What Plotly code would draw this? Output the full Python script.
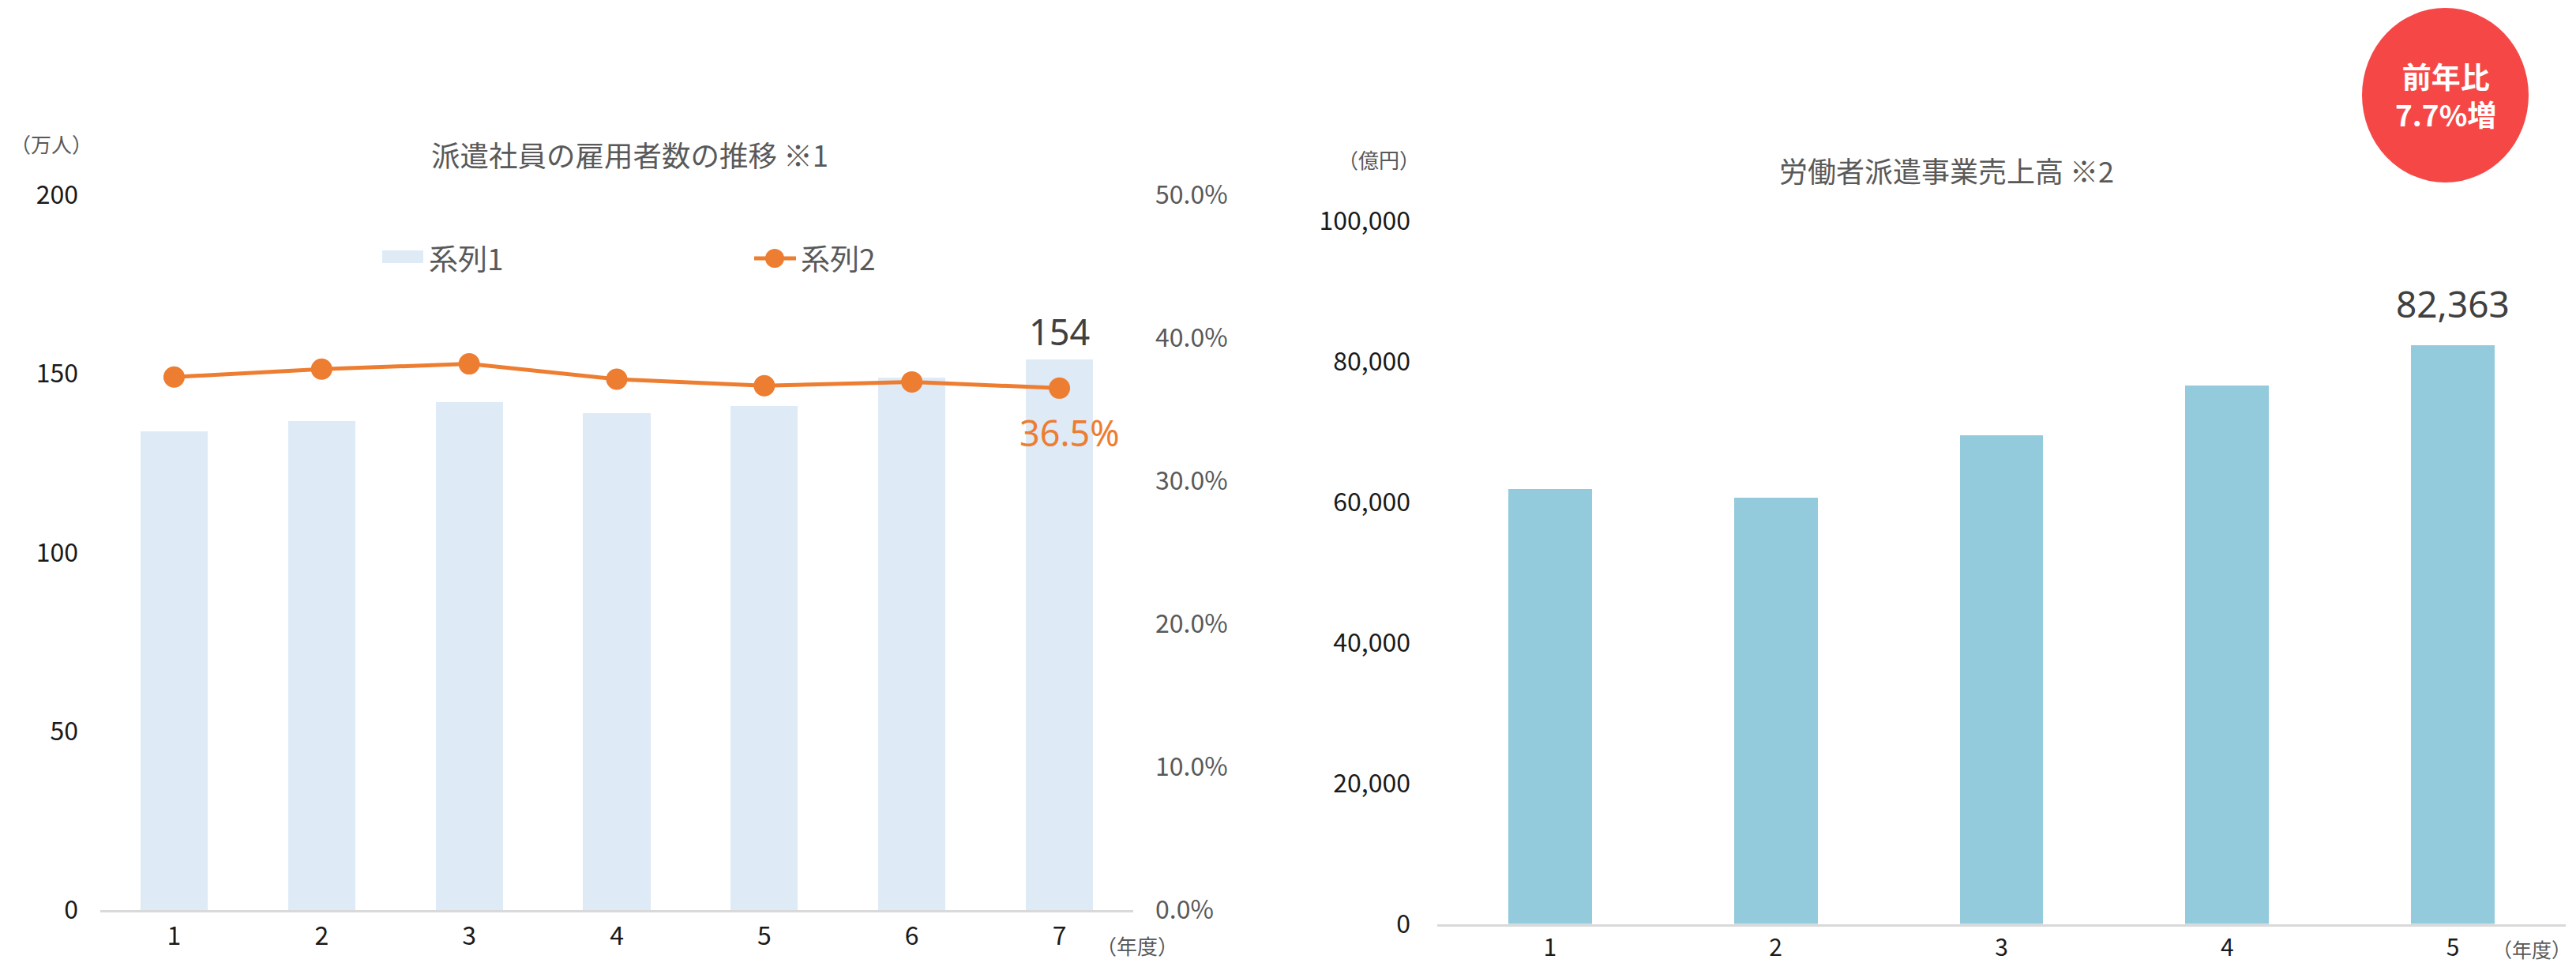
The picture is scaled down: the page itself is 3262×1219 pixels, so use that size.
import plotly.graph_objects as go

W, H = 3262, 1219

# 派遣社員の雇用者数の推移 (万人) と 比率
years_left = ["1", "2", "3", "4", "5", "6", "7"]
staff_counts = [133.9, 136.9, 142.0, 139.0, 141.0, 148.9, 154.0]
staff_ratio = [0.3728, 0.3783, 0.3820, 0.3713, 0.3667, 0.3694, 0.365]

# 労働者派遣事業売上高 (億円)
years_right = ["1", "2", "3", "4", "5"]
sales = [61876, 60710, 69585, 76593, 82363]

left_ticks = [0, 50, 100, 150, 200]
ratio_ticks = [0.0, 0.1, 0.2, 0.3, 0.4, 0.5]
sales_ticks = [0, 20000, 40000, 60000, 80000, 100000]

BAR_LIGHT = "#DEEAF6"
ORANGE = "#ED7D31"
BAR_BLUE = "#94CBDC"
GREY = "#595959"
DARK = "#404040"
FONT = "Noto Sans CJK JP, Noto Sans, sans-serif"


def px_x(p):
    return p / W


def px_y(p):
    return 1 - p / H


fig = go.Figure()

fig.add_trace(go.Bar(
    x=years_left, y=staff_counts, name="系列1",
    marker=dict(color=BAR_LIGHT, line=dict(width=0)),
    width=0.455, xaxis="x", yaxis="y", showlegend=False,
    hoverinfo="skip",
))
fig.add_trace(go.Scatter(
    x=years_left, y=staff_ratio, name="系列2", mode="lines+markers",
    line=dict(color=ORANGE, width=5),
    marker=dict(color=ORANGE, size=27),
    xaxis="x", yaxis="y2", showlegend=False, hoverinfo="skip",
))
fig.add_trace(go.Bar(
    x=years_right, y=sales, name="売上高",
    marker=dict(color=BAR_BLUE, line=dict(width=0)),
    width=0.37, xaxis="x2", yaxis="y3", showlegend=False,
    hoverinfo="skip",
))

left_dom_y = [px_y(1152), px_y(247)]
right_dom_y = [px_y(1169.5), px_y(279.5)]

tick_font_black = dict(family=FONT, size=32, color="#1a1a1a")

fig.update_layout(
    template="none",
    width=W, height=H,
    margin=dict(l=0, r=0, t=0, b=0, pad=0),
    paper_bgcolor="white", plot_bgcolor="rgba(0,0,0,0)",
    font=dict(family=FONT),
    bargap=0,
    xaxis=dict(
        domain=[px_x(127), px_x(1435)], anchor="y", automargin=False,
        type="category", range=[-0.5, 6.5],
        showgrid=False, zeroline=False,
        showline=True, linecolor="#D9D9D9", linewidth=3,
        ticks="", tickfont=tick_font_black, ticklabelstandoff=3,
    ),
    yaxis=dict(
        domain=left_dom_y, anchor="x", automargin=False,
        range=[0, 200], tickvals=left_ticks,
        showgrid=False, zeroline=False, showline=False,
        ticks="", tickfont=tick_font_black, ticklabelstandoff=27,
    ),
    yaxis2=dict(
        domain=left_dom_y, anchor="x", overlaying="y", side="right",
        automargin=False,
        range=[0, 0.5], tickvals=ratio_ticks, tickformat=".1%",
        showgrid=False, zeroline=False, showline=False,
        ticks="", tickfont=dict(family=FONT, size=32, color=GREY),
        ticklabelstandoff=27,
    ),
    xaxis2=dict(
        domain=[px_x(1820), px_x(3249)], anchor="y3", automargin=False,
        type="category", range=[-0.5, 4.5],
        showgrid=False, zeroline=False,
        showline=True, linecolor="#D9D9D9", linewidth=3,
        ticks="", tickfont=dict(family=FONT, size=30, color="#1a1a1a"),
        ticklabelstandoff=1,
    ),
    yaxis3=dict(
        domain=right_dom_y, anchor="x2", automargin=False,
        range=[0, 100000], tickvals=sales_ticks, tickformat=",d",
        showgrid=False, zeroline=False, showline=False,
        ticks="", tickfont=dict(family=FONT, size=32, color="#1a1a1a"),
        ticklabelstandoff=33,
    ),
)

shapes = []
annotations = []


def paper_text(text, x, y, size, color, xanchor="center", bold=False):
    annotations.append(dict(
        text=f"<b>{text}</b>" if bold else text,
        x=px_x(x), y=px_y(y), xref="paper", yref="paper",
        xanchor=xanchor, yanchor="middle", showarrow=False,
        font=dict(family=FONT, size=size, color=color),
    ))


# chart titles and unit labels
paper_text("派遣社員の雇用者数の推移 ※1", 797, 196, 36.5, GREY)
paper_text("労働者派遣事業売上高 ※2", 2465, 215, 36, GREY)
paper_text("（万人）", 65, 181, 26, GREY)
paper_text("（億円）", 1746, 201, 26, GREY)
paper_text("（年度）", 1440, 1196, 26, GREY)
paper_text("（年度）", 3206, 1201, 25, GREY)

# legend for the left chart
shapes.append(dict(type="rect", xref="paper", yref="paper",
                   x0=px_x(484), x1=px_x(536), y0=px_y(333), y1=px_y(317),
                   fillcolor=BAR_LIGHT, line=dict(width=0)))
paper_text("系列1", 541, 326, 37, GREY, xanchor="left")
shapes.append(dict(type="line", xref="paper", yref="paper",
                   x0=px_x(955), x1=px_x(1008), y0=px_y(327), y1=px_y(327),
                   line=dict(color=ORANGE, width=5)))
shapes.append(dict(type="circle", xref="paper", yref="paper",
                   x0=px_x(969), x1=px_x(993), y0=px_y(339), y1=px_y(315),
                   fillcolor=ORANGE, line=dict(width=0)))
paper_text("系列2", 1012, 326, 37, GREY, xanchor="left")

# value labels on the last year (category axes use the serial index)
last_l = len(years_left) - 1
last_r = len(years_right) - 1
annotations.append(dict(
    text=f"{staff_counts[-1]:.0f}", x=last_l, y=staff_counts[-1],
    xref="x", yref="y", yanchor="middle", yshift=36, showarrow=False,
    font=dict(family="Noto Sans", size=45, color=DARK),
))
annotations.append(dict(
    text=f"{staff_ratio[-1] * 100:.1f}%", x=last_l, y=staff_ratio[-1],
    xref="x", yref="y2", yanchor="middle", yshift=-56, xshift=13,
    showarrow=False,
    font=dict(family="Noto Sans", size=45, color=ORANGE),
))
annotations.append(dict(
    text=f"{sales[-1]:,}", x=last_r, y=sales[-1],
    xref="x2", yref="y3", yanchor="middle", yshift=52, showarrow=False,
    font=dict(family="Noto Sans", size=46, color=DARK),
))

# year-on-year badge
shapes.append(dict(type="circle", xref="paper", yref="paper",
                   x0=px_x(2991), x1=px_x(3202), y0=px_y(231), y1=px_y(10),
                   fillcolor="#F64747", line=dict(width=0)))
annotations.append(dict(
    text="<b>前年比</b><br><b>7.7%増</b>",
    x=px_x(3097), y=px_y(120), xref="paper", yref="paper",
    xanchor="center", yanchor="middle", showarrow=False,
    font=dict(family=FONT, size=37, color="white"),
))

fig.update_layout(shapes=shapes, annotations=annotations)

fig.write_html("out.html")
